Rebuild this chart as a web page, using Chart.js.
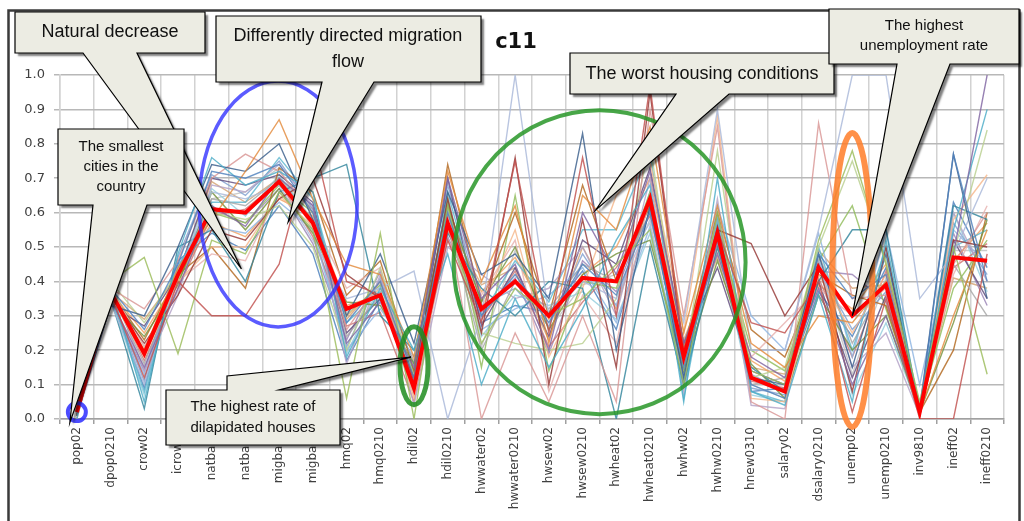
<!DOCTYPE html>
<html>
<head>
<meta charset="utf-8">
<script src="https://cdn.jsdelivr.net/npm/chart.js@4.4.0/dist/chart.umd.min.js"></script>
<style>
  html, body { margin: 0; padding: 0; background: #fff; }
  #chart { display: block; }
</style>
</head>
<body>
<canvas id="chart" width="1024" height="521"></canvas>
<script>
// indicator names on the x axis
const categories = ["pop02", "dpop0210", "crow02", "icrow02", "natbal90", "natbal03", "migbal90", "migbal03",
  "hmq02", "hmq0210", "hdil02", "hdil0210", "hwwater02", "hwwater0210", "hwsew02", "hwsew0210",
  "hwheat02", "hwheat0210", "hwhw02", "hwhw0210", "hnew0310", "salary02", "dsalary0210", "unemp02",
  "unemp0210", "inv9810", "ineff02", "ineff0210"];

const yTicks = [0, 0.1, 0.2, 0.3, 0.4, 0.5, 0.6, 0.7, 0.8, 0.9, 1.0];

// cluster c11 mean (red line)
const meanC11 = [0.02, 0.37, 0.19, 0.42, 0.61, 0.60, 0.69, 0.57, 0.32, 0.36, 0.09, 0.57, 0.32, 0.40,
  0.30, 0.41, 0.40, 0.64, 0.18, 0.54, 0.12, 0.08, 0.44, 0.30, 0.39, 0.02, 0.47, 0.46];

// individual cities of the cluster
const city01 = [0.01, 0.38, 0.26, 0.45, 0.72, 0.70, 0.74, 0.60, 0.28, 0.40, 0.12, 0.60, 0.30, 0.42, 0.28, 0.45, 0.36, 0.60, 0.15, 0.52, 0.10, 0.06, 0.48, 0.35, 0.42, 0.02, 0.77, 0.40];
const city02 = [0.02, 0.36, 0.12, 0.40, 0.30, 0.30, 0.45, 0.82, 0.40, 0.36, 0.10, 0.52, 0.28, 0.75, 0.25, 0.76, 0.30, 0.97, 0.20, 0.55, 0.28, 0.25, 0.40, 0.02, 0.35, 0.00, 0.00, 0.48];
const city03 = [0.01, 0.40, 0.47, 0.19, 0.52, 0.48, 0.66, 0.55, 0.06, 0.54, 0.00, 0.62, 0.22, 0.38, 0.30, 0.35, 0.45, 0.55, 0.10, 0.60, 0.14, 0.10, 0.52, 0.78, 0.45, 0.05, 0.50, 0.13];
const city04 = [0.02, 0.35, 0.15, 0.38, 0.62, 0.56, 0.70, 0.62, 0.22, 0.34, 0.15, 0.70, 0.35, 0.45, 0.20, 0.60, 0.42, 0.72, 0.22, 0.48, 0.18, 0.12, 0.38, 0.10, 0.30, 0.03, 0.48, 1.00];
const city05 = [0.00, 0.39, 0.05, 0.48, 0.76, 0.68, 0.72, 0.66, 0.18, 0.38, 0.20, 0.48, 0.10, 0.35, 0.15, 0.32, 0.52, 0.68, 0.05, 0.70, 0.08, 0.04, 0.36, 0.05, 0.52, 0.02, 0.55, 0.90];
const city06 = [0.01, 0.37, 0.20, 0.44, 0.58, 0.72, 0.87, 0.64, 0.45, 0.42, 0.18, 0.72, 0.40, 0.62, 0.22, 0.65, 0.55, 0.85, 0.25, 0.62, 0.22, 0.15, 0.30, 0.28, 0.40, 0.02, 0.30, 0.55];
const city07 = [0.02, 0.33, 0.30, 0.50, 0.74, 0.72, 0.80, 0.58, 0.30, 0.48, 0.22, 0.66, 0.42, 0.48, 0.35, 0.83, 0.20, 0.62, 0.12, 0.56, 0.12, 0.10, 0.48, 0.15, 0.48, 0.03, 0.77, 0.35];
const city08 = [0.01, 0.36, 0.22, 0.36, 0.55, 0.52, 0.64, 0.70, 0.42, 0.35, 0.12, 0.64, 0.25, 0.76, 0.10, 0.58, 0.15, 0.95, 0.18, 0.55, 0.51, 0.30, 0.45, 0.08, 0.50, 0.01, 0.52, 0.50];
const city09 = [0.02, 0.34, 0.10, 0.42, 0.66, 0.64, 0.68, 0.52, 0.35, 0.38, 0.43, 0.00, 0.30, 1.00, 0.30, 0.40, 0.35, 0.58, 0.28, 0.90, 0.20, 0.20, 0.55, 1.00, 1.00, 0.35, 0.48, 0.70];
const city10 = [0.01, 0.38, 0.32, 0.46, 0.70, 0.77, 0.72, 0.60, 0.26, 0.40, 0.08, 0.58, 0.00, 0.25, 0.05, 0.30, 0.05, 0.90, 0.30, 0.85, 0.05, 0.00, 0.86, 0.35, 0.36, 0.02, 0.45, 0.60];
const city11 = [0.02, 0.40, 0.28, 0.43, 0.60, 0.58, 0.62, 0.50, 0.20, 0.44, 0.12, 0.56, 0.25, 0.22, 0.20, 0.22, 0.35, 0.80, 0.15, 0.78, 0.12, 0.15, 0.50, 0.75, 0.46, 0.04, 0.48, 0.84];
const city12 = [0.01, 0.35, 0.03, 0.50, 0.55, 0.40, 0.66, 0.70, 0.74, 0.30, 0.20, 0.54, 0.38, 0.30, 0.40, 0.38, 0.00, 0.50, 0.10, 0.50, 0.15, 0.08, 0.40, 0.55, 0.55, 0.02, 0.62, 0.58];
const city13 = [0.02, 0.36, 0.18, 0.40, 0.50, 0.50, 0.65, 0.56, 0.30, 0.38, 0.06, 0.60, 0.32, 0.55, 0.18, 0.38, 0.65, 0.75, 0.25, 0.88, 0.06, 0.05, 0.42, 0.25, 0.42, 0.02, 0.58, 0.71];
const city14 = [0.01, 0.37, 0.16, 0.41, 0.64, 0.62, 0.70, 0.58, 0.24, 0.36, 0.10, 0.58, 0.20, 0.40, 0.32, 0.45, 0.40, 0.60, 0.20, 0.52, 0.10, 0.12, 0.48, 0.22, 0.40, 0.04, 0.45, 0.30];
const city15 = [0.02, 0.34, 0.24, 0.39, 0.66, 0.55, 0.67, 0.54, 0.34, 0.33, 0.16, 0.62, 0.34, 0.50, 0.26, 0.42, 0.48, 0.52, 0.14, 0.46, 0.16, 0.06, 0.36, 0.20, 0.30, 0.02, 0.28, 0.58];
const city16 = [0.01, 0.39, 0.14, 0.36, 0.68, 0.66, 0.74, 0.62, 0.16, 0.42, 0.04, 0.50, 0.42, 0.35, 0.38, 0.50, 0.30, 0.70, 0.08, 0.64, 0.04, 0.03, 0.46, 0.15, 0.25, 0.01, 0.60, 0.40];
const city17 = [0.02, 0.36, 0.08, 0.44, 0.63, 0.63, 0.76, 0.64, 0.28, 0.37, 0.08, 0.66, 0.30, 0.46, 0.34, 0.55, 0.55, 0.78, 0.06, 0.58, 0.08, 0.05, 0.50, 0.20, 0.50, 0.01, 0.50, 0.55];
const city18 = [0.00, 0.38, 0.21, 0.40, 0.48, 0.46, 0.66, 0.58, 0.38, 0.44, 0.07, 0.52, 0.36, 0.52, 0.08, 0.36, 0.22, 0.65, 0.17, 0.50, 0.18, 0.28, 0.38, 0.30, 0.38, 0.03, 0.42, 0.62];
const city19 = [0.01, 0.37, 0.23, 0.42, 0.50, 0.38, 0.73, 0.66, 0.36, 0.46, 0.14, 0.74, 0.34, 0.60, 0.30, 0.68, 0.40, 0.62, 0.20, 0.60, 0.26, 0.18, 0.42, 0.36, 0.33, 0.02, 0.20, 0.60];
const city20 = [0.02, 0.35, 0.13, 0.45, 0.56, 0.54, 0.63, 0.55, 0.20, 0.32, 0.18, 0.60, 0.26, 0.32, 0.36, 0.44, 0.28, 0.56, 0.12, 0.62, 0.30, 0.20, 0.54, 0.18, 0.55, 0.10, 0.55, 0.45];
const city21 = [0.01, 0.33, 0.27, 0.42, 0.70, 0.68, 0.71, 0.63, 0.25, 0.35, 0.11, 0.70, 0.27, 0.44, 0.24, 0.52, 0.45, 0.73, 0.22, 0.44, 0.14, 0.10, 0.40, 0.12, 0.36, 0.02, 0.52, 0.35];
const city22 = [0.02, 0.39, 0.19, 0.40, 0.60, 0.57, 0.68, 0.60, 0.30, 0.39, 0.13, 0.64, 0.15, 0.65, 0.14, 0.40, 0.38, 0.66, 0.16, 0.56, 0.20, 0.14, 0.46, 0.62, 0.32, 0.03, 0.38, 0.52];
const city23 = [0.01, 0.36, 0.11, 0.47, 0.71, 0.65, 0.75, 0.61, 0.21, 0.41, 0.16, 0.68, 0.33, 0.38, 0.27, 0.48, 0.33, 0.66, 0.14, 0.55, 0.09, 0.07, 0.44, 0.26, 0.37, 0.02, 0.57, 0.42];
const city24 = [0.02, 0.38, 0.17, 0.38, 0.59, 0.61, 0.69, 0.53, 0.27, 0.31, 0.05, 0.55, 0.29, 0.43, 0.21, 0.34, 0.44, 0.59, 0.19, 0.51, 0.11, 0.09, 0.41, 0.18, 0.43, 0.01, 0.44, 0.51];
const city25 = [0.01, 0.35, 0.07, 0.43, 0.67, 0.59, 0.71, 0.57, 0.19, 0.39, 0.09, 0.61, 0.24, 0.36, 0.33, 0.37, 0.29, 0.54, 0.09, 0.53, 0.07, 0.05, 0.47, 0.07, 0.28, 0.02, 0.60, 0.37];
const city26 = [0.02, 0.37, 0.25, 0.41, 0.57, 0.53, 0.64, 0.59, 0.33, 0.36, 0.17, 0.59, 0.37, 0.47, 0.29, 0.42, 0.50, 0.70, 0.21, 0.57, 0.17, 0.11, 0.39, 0.32, 0.45, 0.03, 0.46, 0.57];
const city27 = [0.01, 0.34, 0.14, 0.44, 0.61, 0.57, 0.67, 0.51, 0.23, 0.43, 0.11, 0.53, 0.31, 0.41, 0.19, 0.46, 0.37, 0.63, 0.11, 0.59, 0.13, 0.08, 0.43, 0.42, 0.34, 0.02, 0.54, 0.33];
const city28 = [0.02, 0.39, 0.21, 0.37, 0.64, 0.66, 0.73, 0.55, 0.31, 0.37, 0.07, 0.65, 0.21, 0.49, 0.26, 0.39, 0.42, 0.57, 0.17, 0.49, 0.10, 0.06, 0.45, 0.13, 0.41, 0.01, 0.49, 0.49];
const city29 = [0.01, 0.36, 0.09, 0.46, 0.54, 0.49, 0.62, 0.48, 0.17, 0.35, 0.14, 0.63, 0.28, 0.33, 0.31, 0.43, 0.26, 0.61, 0.13, 0.54, 0.08, 0.09, 0.37, 0.24, 0.44, 0.03, 0.63, 0.44];
const city30 = [0.02, 0.37, 0.29, 0.42, 0.69, 0.63, 0.70, 0.61, 0.29, 0.40, 0.10, 0.57, 0.39, 0.44, 0.23, 0.50, 0.32, 0.64, 0.23, 0.47, 0.15, 0.13, 0.49, 0.38, 0.39, 0.02, 0.41, 0.38];

const cities = [city01, city02, city03, city04, city05, city06, city07, city08, city09, city10,
  city11, city12, city13, city14, city15, city16, city17, city18, city19, city20,
  city21, city22, city23, city24, city25, city26, city27, city28, city29, city30];

const palette = ["#4F81BD", "#C0504D", "#9BBB59", "#8064A2", "#4BACC6", "#E38B3C", "#385D8A", "#953735",
  "#A9B8D9", "#D99694", "#B9CF8F", "#31859C", "#F5B78A", "#A5A5A5", "#76923C", "#B3A2C7",
  "#5DB7CF", "#E6B0AE", "#B2671E", "#8DB4E2", "#5F497A", "#8FBC5A",
  "#7F9FCF", "#CD7371", "#93CDDD", "#F2A160", "#9983B5", "#BFBFBF", "#4A7EBB", "#D4A373"];

const datasets = [{
  label: "c11",
  data: meanC11,
  borderColor: "#FF0000",
  borderWidth: 4,
  pointRadius: 0,
  tension: 0
}];
cities.forEach((c, i) => {
  datasets.push({
    label: "city" + (i + 1),
    data: c,
    borderColor: palette[i % palette.length] + "D0",
    borderWidth: 1.4,
    pointRadius: 0,
    tension: 0
  });
});

function ellipse(ctx, cx, cy, rx, ry, color, lw) {
  ctx.save();
  ctx.beginPath();
  ctx.ellipse(cx, cy, rx, ry, 0, 0, Math.PI * 2);
  ctx.strokeStyle = color;
  ctx.lineWidth = lw;
  ctx.stroke();
  ctx.restore();
}

function calloutPath(ctx, pts) {
  ctx.beginPath();
  ctx.moveTo(pts[0][0], pts[0][1]);
  for (let i = 1; i < pts.length; i++) ctx.lineTo(pts[i][0], pts[i][1]);
  ctx.closePath();
}

function callout(ctx, pts, lines, cx, ys, size) {
  ctx.save();
  calloutPath(ctx, pts);
  ctx.shadowColor = "rgba(0,0,0,0.5)";
  ctx.shadowOffsetX = 3;
  ctx.shadowOffsetY = 3;
  ctx.shadowBlur = 2;
  ctx.fillStyle = "#ECECE3";
  ctx.fill();
  ctx.shadowColor = "transparent";
  ctx.strokeStyle = "#000";
  ctx.lineWidth = 1.2;
  ctx.stroke();
  ctx.fillStyle = "#111";
  ctx.font = size + "px 'Liberation Sans', Arial, sans-serif";
  ctx.textAlign = "center";
  ctx.textBaseline = "middle";
  lines.forEach((t, i) => ctx.fillText(t, cx, ys[i]));
  ctx.restore();
}

// box with the pointer going out of its bottom edge
function boxDown(x, y, w, h, b1, b2, tip) {
  return [[x, y], [x + w, y], [x + w, y + h], [b2, y + h], tip, [b1, y + h], [x, y + h]];
}

const decorations = {
  id: "decorations",
  beforeDraw(chart) {
    const ctx = chart.ctx;
    ctx.save();
    ctx.fillStyle = "#fff";
    ctx.fillRect(0, 0, chart.width, chart.height);
    ctx.restore();
  },
  afterDraw(chart) {
    const ctx = chart.ctx;
    const xs = chart.scales.x, ys = chart.scales.y;
    const px = (i, dx) => xs.getPixelForValue(i) + (dx || 0);
    const py = v => ys.getPixelForValue(v);

    // frame
    ctx.save();
    ctx.strokeStyle = "#3a3a3a";
    ctx.lineWidth = 2.5;
    ctx.strokeRect(8.5, 10.5, 1011, 540);
    ctx.restore();

    // title
    ctx.save();
    ctx.fillStyle = "#111";
    ctx.font = "bold 21px 'DejaVu Sans', Verdana, sans-serif";
    ctx.textAlign = "center";
    ctx.textBaseline = "middle";
    ctx.fillText("c11", 516, 43);
    ctx.restore();

    // highlight ellipses
    ellipse(ctx, px(0), py(0.02), 9, 9, "rgba(45,45,255,0.85)", 4);
    ellipse(ctx, px(6, -1), py(0.625), 79, 123, "rgba(50,50,255,0.8)", 3.5);
    ellipse(ctx, px(10), py(0.155), 14, 39, "rgba(30,140,30,0.85)", 5);
    ellipse(ctx, px(15, 17), py(0.456), 146, 152, "rgba(40,150,40,0.85)", 4);
    ellipse(ctx, px(23), py(0.404), 20, 147, "rgba(255,125,40,0.85)", 6);

    // callouts
    callout(ctx, boxDown(15, 12, 190, 41, 83, 137, [px(5, -4), py(0.436)]),
      ["Natural decrease"], 110, [32], 18);
    callout(ctx, boxDown(58, 129, 126, 76, 93, 147, [px(0, -7), py(-0.01)]),
      ["The smallest", "cities in the", "country"], 121, [147, 167, 187], 15);
    callout(ctx, boxDown(216, 16, 265, 66, 322, 374, [px(6, 9), py(0.573)]),
      ["Differently directed migration", "flow"], 348, [36, 62], 18);
    callout(ctx, boxDown(570, 53, 264, 41, 676, 729, [px(15, 13), py(0.607)]),
      ["The worst housing conditions"], 702, [74], 18);
    callout(ctx, boxDown(829, 9, 190, 55, 897, 950, [px(23), py(0.30)]),
      ["The highest", "unemployment rate"], 924, [26, 46], 15);
    callout(ctx, [[166, 390], [227, 390], [227, 376], [px(10, -3), py(0.18)], [279, 390], [340, 390], [340, 445], [166, 445]],
      ["The highest rate of", "dilapidated houses"], 253, [407, 428], 15);
  }
};

new Chart(document.getElementById("chart"), {
  type: "line",
  data: { labels: categories, datasets: datasets },
  plugins: [decorations],
  options: {
    responsive: false,
    animation: false,
    devicePixelRatio: 1,
    layout: { padding: { left: 10, right: 20, top: 75, bottom: 0 } },
    plugins: {
      legend: { display: false },
      tooltip: { enabled: false },
      title: { display: false }
    },
    scales: {
      x: {
        offset: true,
        grid: { offset: true, color: "#d2d2d2", lineWidth: 1.5, tickLength: 5, tickColor: "#a0a0a0" },
        border: { color: "#a0a0a0", width: 1.5 },
        ticks: {
          autoSkip: false,
          minRotation: 90,
          maxRotation: 90,
          padding: 3,
          color: "#404040",
          font: { family: "'DejaVu Sans', Verdana, sans-serif", size: 12 }
        },
        afterFit: s => { s.height = 102; }
      },
      y: {
        min: 0,
        max: 1,
        afterBuildTicks: s => { s.ticks = yTicks.map(v => ({ value: v })); },
        grid: { color: "#b8b8b8", lineWidth: 1.5, tickLength: 6 },
        border: { color: "#d2d2d2", width: 1.5 },
        ticks: {
          padding: 9,
          color: "#404040",
          font: { family: "'DejaVu Sans', Verdana, sans-serif", size: 13 },
          callback: v => Number(v).toFixed(1)
        },
        afterFit: s => { s.width = 50; }
      }
    }
  }
});
</script>
</body>
</html>
